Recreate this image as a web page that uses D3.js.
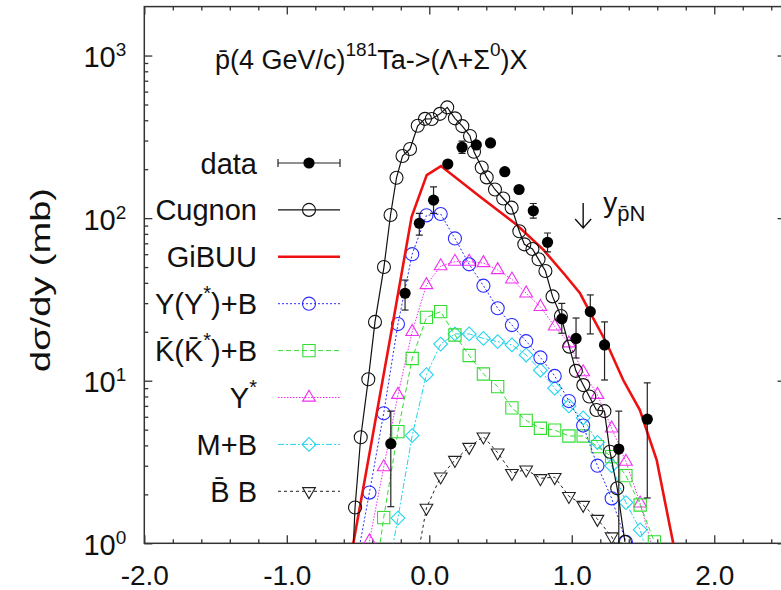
<!DOCTYPE html>
<html><head><meta charset="utf-8">
<script src="https://cdn.jsdelivr.net/npm/d3@7"></script>
<style>
body{margin:0;background:#fff}
svg{display:block}
text{font-family:"Liberation Sans",Arial,Helvetica,sans-serif;fill:#111}
</style>
</head><body>
<svg id="c" width="781" height="590"></svg>
<script>
// ---------- data ----------
const xMajor = [-2, -1, 0, 1, 2];
const xTickLabels = ["-2.0", "-1.0", "0.0", "1.0", "2.0"];
const yMajor = [1, 10, 100, 1000];
const yExponents = ["0", "1", "2", "3"];

const dataX  = [-0.27,-0.17,-0.07,0.03,0.13,0.23,0.33,0.43,0.53,0.63,0.73,0.83,0.93,1.03,1.13,1.23,1.33,1.53];
const dataY  = [4.1,34.5,93,129,215,273,282,290,193,150,111,71,24,18.2,26.6,16.6,3.8,5.8];
const dataLo = [1.68,27.2,78.7,107,205,250,272,280,186,144,100,62,19.6,13.8,19.4,10.1,1.0,1.9];
const dataHi = [6.5,41.6,107,155.6,226,298,292,300,200,156,123,81,29.9,24.3,33.7,23,6.5,9.7];

const cugX = [-0.54,-0.521,-0.481,-0.428,-0.381,-0.318,-0.272,-0.230,-0.188,-0.135,-0.081,-0.030,0.017,0.075,0.126,0.180,0.232,0.286,0.314,0.368,0.403,0.461,0.519,0.578,0.632,0.667,0.724,0.767,0.815,0.865,0.924,0.982,1.029,1.081,1.123,1.173,1.229,1.268,1.319,1.373];
const cugY = [0.7,1.66,4.49,10.2,23,50,104.5,177,241,266,370,408,407,438,480,411,368,320,256,205,178,150,132,116,83,69,64.6,55.8,47.3,33,25,16.2,11.5,9.4,8.0,6.6,6.5,3.66,2.18,1.02];

const gibX = [-0.533,-0.264,-0.124,-0.018,0.082,0.35,0.613,0.8,0.95,1.058,1.15,1.245,1.361,1.478,1.596,1.712];
const gibY = [1.0,20.5,102,184,209,137,91,64,45,34.5,24.3,17,10.1,6.6,3.25,1.0];

const compX = [-0.52,-0.42,-0.32,-0.22,-0.12,-0.02,0.08,0.18,0.28,0.38,0.48,0.58,0.68,0.78,0.88,0.98,1.08,1.18,1.28,1.38,1.48,1.58];
const yybY  = [0.69,2.05,6.3,22.3,60,104,106,75,52,38.4,27.9,22,17.5,13.9,10.7,7.5,5.3,3.0,1.89,1.02,null,null];
const kkbY  = [null,0.33,1.44,4.86,13.7,24.5,26.6,19.1,14.3,11,9.2,6.8,5.7,5.1,4.97,4.57,4.57,3.93,3.41,2.61,1.72,1.02];
const ystY  = [null,1.03,2.94,8.2,20,38.8,50.7,54,54,53,48,42,34.5,28.5,21.6,17,11.3,8.2,5.1,3.18,1.76,0.85];
const mbY   = [null,null,0.48,1.43,4.6,10.9,16.8,19.4,19.4,18.2,17.4,16.6,14.4,11.6,9.0,7.0,5.9,4.17,3.0,1.78,1.21,0.6];
const bbY   = [null,null,null,null,0.54,1.65,2.57,3.25,3.91,4.53,3.61,2.7,2.84,2.51,2.55,1.95,1.72,1.41,1.1,0.7,null,null];

const yPN = 1.08;

// ---------- setup ----------
const svg = d3.select("#c");
const x = d3.scaleLinear().domain([-2, 2.5]).range([144.3, 785.5]);
const y = d3.scaleLog().domain([1, 2000]).range([543.3, 6.6]);
const L = x(-2), R = x(2.5), T = y(2000), B = y(1);
const FONT = '"Liberation Sans",Arial,Helvetica,sans-serif';

svg.append("defs").append("clipPath").attr("id","clip")
  .append("rect").attr("x",L).attr("y",T).attr("width",R-L).attr("height",B-T);

// ---------- axes ----------
const xMinor = d3.range(-20, 26, 2).map(v => v/10).filter(v => Math.abs(v - Math.round(v)) > 1e-6);
const yMinor = [];
[1,10,100,1000].forEach(d => { for (let k=2;k<=9;k++){ const v=d*k; if (v<2000) yMinor.push(v);} });

function styleAxis(g){
  g.select(".domain").remove();
  g.selectAll("line").attr("stroke","#333").attr("stroke-width",1.3);
}
// bottom
svg.append("g").attr("transform",`translate(0,${B})`)
  .call(d3.axisBottom(x).tickValues(xMinor).tickSizeInner(-4).tickSizeOuter(0).tickFormat(""))
  .call(styleAxis);
const bx = svg.append("g").attr("transform",`translate(0,${B})`)
  .call(d3.axisBottom(x).tickValues(xMajor).tickSizeInner(-8).tickSizeOuter(0)
        .tickFormat((d,i) => xTickLabels[i]))
  .call(styleAxis);
bx.attr("font-size",28).attr("font-family",FONT);
bx.selectAll("text").attr("y",41.5).attr("dy",0).attr("fill","#111");
// top
svg.append("g").attr("transform",`translate(0,${T})`)
  .call(d3.axisTop(x).tickValues(xMinor).tickSizeInner(-4).tickSizeOuter(0).tickFormat(""))
  .call(styleAxis);
svg.append("g").attr("transform",`translate(0,${T})`)
  .call(d3.axisTop(x).tickValues(xMajor).tickSizeInner(-8).tickSizeOuter(0).tickFormat(""))
  .call(styleAxis);
// left
svg.append("g").attr("transform",`translate(${L},0)`)
  .call(d3.axisLeft(y).tickValues(yMinor).tickSizeInner(-4).tickSizeOuter(0).tickFormat(""))
  .call(styleAxis);
const ly = svg.append("g").attr("transform",`translate(${L},0)`)
  .call(d3.axisLeft(y).tickValues(yMajor).tickSizeInner(-8).tickSizeOuter(0).tickFormat(""))
  .call(styleAxis);
ly.selectAll(".tick").each(function(d,i){
  const t = d3.select(this).select("text").attr("x",-18).attr("y",11).attr("dy",0)
    .attr("text-anchor","end").attr("font-size",29).attr("font-family",FONT).attr("fill","#111");
  t.append("tspan").text("10");
  t.append("tspan").attr("dy",-11).attr("font-size",19).text(yExponents[i]);
});
// right
svg.append("g").attr("transform",`translate(${R},0)`)
  .call(d3.axisRight(y).tickValues(yMinor).tickSizeInner(-4).tickSizeOuter(0).tickFormat(""))
  .call(styleAxis);
svg.append("g").attr("transform",`translate(${R},0)`)
  .call(d3.axisRight(y).tickValues(yMajor).tickSizeInner(-8).tickSizeOuter(0).tickFormat(""))
  .call(styleAxis);

// frame
svg.append("rect").attr("x",L).attr("y",T).attr("width",R-L).attr("height",B-T)
  .attr("fill","none").attr("stroke","#333").attr("stroke-width",1.5);

// axis title
svg.append("text").attr("transform",`translate(50,280) rotate(-90)`)
  .attr("text-anchor","middle").attr("font-size",28)
  .attr("textLength",184).attr("lengthAdjust","spacingAndGlyphs")
  .text("dσ/dy (mb)");

// ---------- series ----------
const plot = svg.append("g").attr("clip-path","url(#clip)");

const triUp = d3.symbol().type(d3.symbolTriangle).size(70);
const square = d3.symbol().type(d3.symbolSquare).size(150);
const circleSym = d3.symbol().type(d3.symbolCircle).size(135);

const series = [
  {name:"bb",  ys:bbY,  color:"#222",    dash:"3,3",     width:1, marker:"tridown"},
  {name:"mb",  ys:mbY,  color:"#22d4ee", dash:"6,2,2,2", width:1, marker:"diamond"},
  {name:"yst", ys:ystY, color:"#f030f0", dash:"1.5,1.5", width:1, marker:"triup"},
  {name:"kkb", ys:kkbY, color:"#30dd30", dash:"5,3",     width:1, marker:"square"},
  {name:"yyb", ys:yybY, color:"#2a2aff", dash:"2,2",     width:1, marker:"circle"},
];

function markerPath(m){
  if (m==="circle") return circleSym();
  if (m==="square") return square();
  if (m==="triup" || m==="tridown") return triUp();
  if (m==="diamond") return d3.symbol().type(d3.symbolSquare).size(95)();
}
function markerRot(m){ return m==="tridown" ? 180 : (m==="diamond" ? 45 : 0); }

const line = d3.line().x(d => x(d[0])).y(d => y(d[1]));

series.forEach(s => {
  const pts = compX.map((v,i) => [v, s.ys[i]]).filter(d => d[1] != null);
  plot.append("path").datum(pts).attr("d", line)
    .attr("fill","none").attr("stroke",s.color).attr("stroke-width",s.width)
    .attr("stroke-dasharray",s.dash);
  plot.selectAll(null).data(pts.filter(d => d[1] >= 0.95)).enter().append("path")
    .attr("d", markerPath(s.marker))
    .attr("transform", d => `translate(${x(d[0])},${y(d[1])}) rotate(${markerRot(s.marker)})`)
    .attr("fill","none").attr("stroke",s.color).attr("stroke-width",1.1);
});

// GiBUU
plot.append("path").datum(gibX.map((v,i)=>[v,gibY[i]])).attr("d", line)
  .attr("fill","none").attr("stroke","#ee1111").attr("stroke-width",2.6);

// Cugnon
const cug = cugX.map((v,i)=>[v,cugY[i]]);
plot.append("path").datum(cug).attr("d", line)
  .attr("fill","none").attr("stroke","#111").attr("stroke-width",1.2);
plot.selectAll(null).data(cug.filter(d=>d[1]>=0.95)).enter().append("circle")
  .attr("cx",d=>x(d[0])).attr("cy",d=>y(d[1])).attr("r",6.5)
  .attr("fill","none").attr("stroke","#111").attr("stroke-width",1.1);

// data
const dat = dataX.map((v,i)=>({x:v,y:dataY[i],lo:dataLo[i],hi:dataHi[i]}));
const eb = plot.append("g").attr("stroke","#222").attr("stroke-width",1.2);
dat.forEach(d => {
  eb.append("line").attr("x1",x(d.x)).attr("x2",x(d.x)).attr("y1",y(d.lo)).attr("y2",y(d.hi));
  eb.append("line").attr("x1",x(d.x)-3.5).attr("x2",x(d.x)+3.5).attr("y1",y(d.lo)).attr("y2",y(d.lo));
  eb.append("line").attr("x1",x(d.x)-3.5).attr("x2",x(d.x)+3.5).attr("y1",y(d.hi)).attr("y2",y(d.hi));
});
plot.selectAll(null).data(dat).enter().append("circle")
  .attr("cx",d=>x(d.x)).attr("cy",d=>y(d.y)).attr("r",5.6).attr("fill","#000");

// ---------- title ----------
const title = svg.append("text").attr("x",215).attr("y",69).attr("font-size",27);
title.append("tspan").text("p\u0304(4 GeV/c)");
title.append("tspan").attr("dy",-13).attr("font-size",19).text("181");
title.append("tspan").attr("dy",13).text("Ta->(Λ+Σ");
title.append("tspan").attr("dy",-13).attr("font-size",19).text("0");
title.append("tspan").attr("dy",13).text(")X");

// ---------- y_pN arrow ----------
const ax = x(yPN);
svg.append("path").attr("d",`M${ax},203 L${ax},228 M${ax-8},219 L${ax},228 L${ax+8},219`)
  .attr("fill","none").attr("stroke","#111").attr("stroke-width",1.4);
const yl = svg.append("text").attr("x",ax+20).attr("y",212).attr("font-size",28);
yl.append("tspan").text("y");
yl.append("tspan").attr("dy",9).attr("font-size",22).text("p\u0304N");

// ---------- legend ----------
const legendY0 = 163, legendDY = 46.9;
const legend = [
  {parts:[["data"]], kind:"data"},
  {parts:[["Cugnon"]], kind:"cug"},
  {parts:[["GiBUU"]], kind:"gib"},
  {parts:[["Y(Y"],["*","sup"],[")+B"]], kind:"yyb"},
  {parts:[["K\u0304(K\u0304"],["*","sup"],[")+B"]], kind:"kkb"},
  {parts:[["Y"],["*","sup"]], kind:"yst"},
  {parts:[["M+B"]], kind:"mb"},
  {parts:[["B\u0304 B"]], kind:"bb"},
];
const lx0 = 278, lx1 = 340, lxm = 309;
legend.forEach((e,i) => {
  const cy = legendY0 + i*legendDY;
  const t = svg.append("text").attr("x",257).attr("y",cy+10.5).attr("text-anchor","end").attr("font-size",29);
  let up = false;
  e.parts.forEach(p => {
    const ts = t.append("tspan").text(p[0]);
    if (p[1]==="sup"){ ts.attr("dy",-14).attr("font-size",20); up = true; }
    else if (up){ ts.attr("dy",14); up=false; }
  });
  const g = svg.append("g");
  if (e.kind==="data"){
    g.append("line").attr("x1",lx0).attr("x2",lx1).attr("y1",cy).attr("y2",cy).attr("stroke","#222").attr("stroke-width",1.2);
    g.append("line").attr("x1",lx0).attr("x2",lx0).attr("y1",cy-4).attr("y2",cy+4).attr("stroke","#222").attr("stroke-width",1.2);
    g.append("line").attr("x1",lx1).attr("x2",lx1).attr("y1",cy-4).attr("y2",cy+4).attr("stroke","#222").attr("stroke-width",1.2);
    g.append("circle").attr("cx",lxm).attr("cy",cy).attr("r",5.6).attr("fill","#000");
  } else if (e.kind==="cug"){
    g.append("line").attr("x1",lx0).attr("x2",lx1).attr("y1",cy).attr("y2",cy).attr("stroke","#111").attr("stroke-width",1.2);
    g.append("circle").attr("cx",lxm).attr("cy",cy).attr("r",6.5).attr("fill","none").attr("stroke","#111").attr("stroke-width",1.1);
  } else if (e.kind==="gib"){
    g.append("line").attr("x1",lx0).attr("x2",lx1).attr("y1",cy).attr("y2",cy).attr("stroke","#ee1111").attr("stroke-width",2.6);
  } else {
    const s = series.find(s => s.name===e.kind);
    g.append("line").attr("x1",lx0).attr("x2",lx1).attr("y1",cy).attr("y2",cy)
      .attr("stroke",s.color).attr("stroke-width",1).attr("stroke-dasharray",s.dash);
    g.append("path").attr("d",markerPath(s.marker))
      .attr("transform",`translate(${lxm},${cy}) rotate(${markerRot(s.marker)})`)
      .attr("fill","none").attr("stroke",s.color).attr("stroke-width",1.1);
  }
});
</script>
</body></html>
